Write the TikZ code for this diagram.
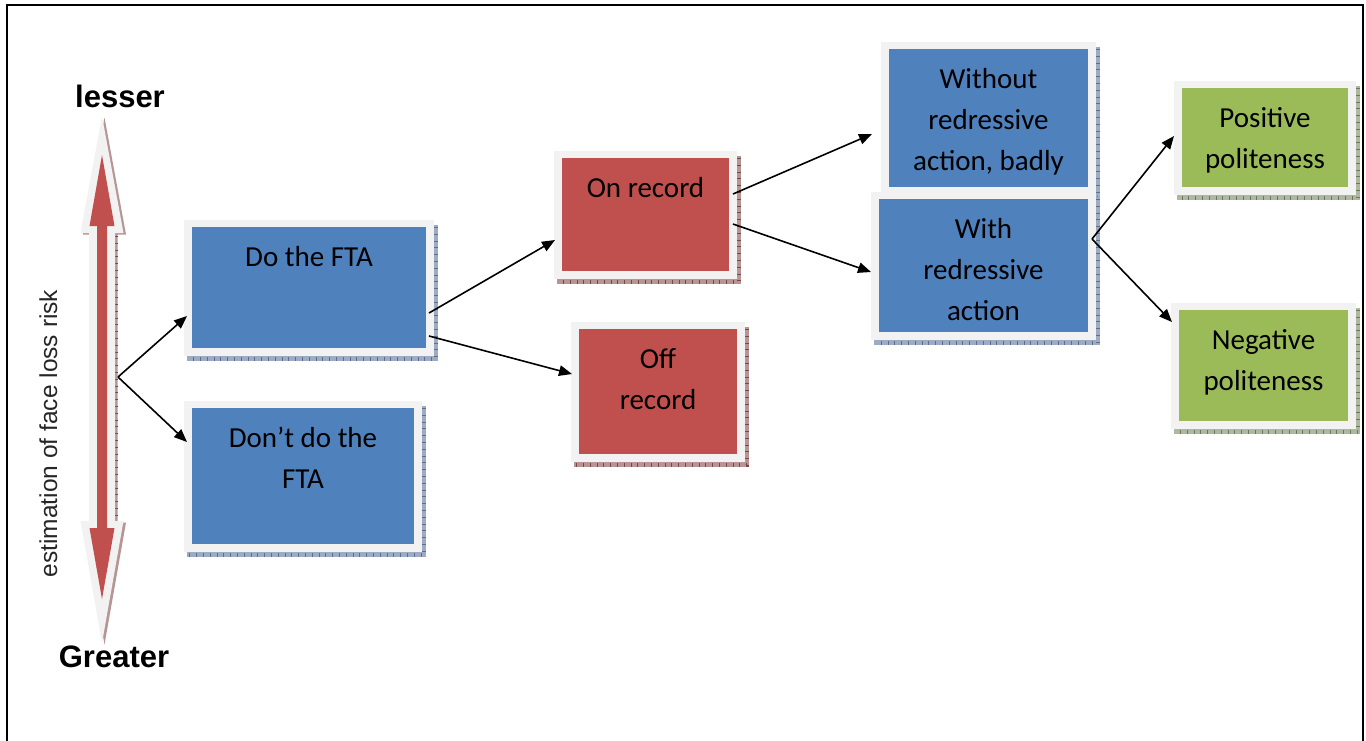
\documentclass[tikz,border=0pt]{standalone}
\usepackage{fontspec}
\setmainfont{Carlito}
\newfontfamily\arialfont{Liberation Sans}
\usetikzlibrary{arrows.meta,calc}
\definecolor{frgray}{HTML}{F2F2F2}
\definecolor{bluefill}{HTML}{4F81BD}
\definecolor{redfill}{HTML}{C0504D}
\definecolor{greenfill}{HTML}{9BBB59}
\definecolor{blueshadow}{HTML}{9DABC3}
\definecolor{blueticks}{HTML}{5A6F92}
\definecolor{redshadow}{HTML}{B89595}
\definecolor{redticks}{HTML}{7A4646}
\definecolor{greenshadow}{HTML}{AEB8A0}
\definecolor{greenticks}{HTML}{6A7858}
\tikzset{
  boxstyle/.style={rectangle, inner sep=0pt, outer sep=0pt, draw=none},
  boxtext/.style={font=\fontsize{29}{41}\selectfont, align=center, inner sep=0pt, text=black},
  conn/.style={line width=1.6pt, -{Triangle[length=13pt,width=10.5pt]}},
  sidelabel/.style={font=\arialfont\bfseries\fontsize{31}{36}\selectfont, anchor=base, inner sep=0pt},
}
% name x1 y1 x2 y2 fill shadow ticks text
\newcommand\ftabox[9]{%
  \fill[#7] ({#2-5},{#3-2}) rectangle ({#4+12},{#5+13});
  \draw[#8, line width=4pt, dash pattern=on 0.8pt off 6pt] ({#4+10},{#3}) -- ({#4+10},{#5+11}) -- ({#2-4},{#5+11});
  \fill[frgray] ({#2-8},{#3-7}) rectangle ({#4+8},{#5+8});
  \node[boxstyle, fill=#6, minimum width={#4-#2}, minimum height={#5-#3}, anchor=north west] (#1) at (#2,#3) {};
  \node[boxtext, anchor=north] (#1-t) at ({(#2+#4)/2},{#3+10.3}) {\strut #9};
}
\begin{document}
\begin{tikzpicture}[x=1pt,y=-1pt]
\useasboundingbox (0,0) rectangle (1366,740);
% frame
\draw[line width=2.5pt] (7,745) -- (7,5) -- (1363,5) -- (1363,745);

% double arrow (scale)
\fill[redshadow] (104.5,117.5) -- (126,234.5) -- (117.5,234.5) -- (117.5,522.5) -- (126,522.5) -- (104.5,644.5) -- (83,522.5) -- (91.5,522.5) -- (91.5,234.5) -- (83,234.5) -- cycle;
\draw[redticks, line width=2.5pt, dash pattern=on 0.8pt off 6pt] (116.5,236) -- (116.5,520);
\fill[frgray] (102,116) -- (123.5,233) -- (115,233) -- (115,521) -- (123.5,521) -- (102,643) -- (80.5,521) -- (89,521) -- (89,233) -- (80.5,233) -- cycle;
\fill[redfill] (102,155) -- (114.5,226) -- (107,226) -- (107,528) -- (114.5,528) -- (102,599) -- (89.5,528) -- (97,528) -- (97,226) -- (89.5,226) -- cycle;

\node[sidelabel] (lesser) at (120,107) {lesser};
\node[sidelabel] (greater) at (114,667) {Greater};
\node[rotate=90, anchor=base, inner sep=0pt, font=\arialfont\fontsize{24.5}{28}\selectfont, text=black!85] (axis) at (57,433.5) {estimation of face loss risk};

% boxes
\ftabox{do}{192}{227}{426}{348}{bluefill}{blueshadow}{blueticks}{Do the FTA}
\ftabox{dont}{192}{408}{414}{544}{bluefill}{blueshadow}{blueticks}{Don’t do the\\FTA}
\ftabox{on}{562}{158}{729}{271}{redfill}{redshadow}{redticks}{On record}
\ftabox{off}{579}{329}{737}{454}{redfill}{redshadow}{redticks}{Off\\record}
\ftabox{without}{889}{49}{1088}{187}{bluefill}{blueshadow}{blueticks}{Without\\redressive\\action, badly}
\ftabox{with}{879}{199}{1088}{332}{bluefill}{blueshadow}{blueticks}{With\\redressive\\action}
\ftabox{pos}{1182}{88}{1348}{187}{greenfill}{greenshadow}{greenticks}{Positive\\politeness}
\ftabox{neg}{1179}{310}{1348}{421}{greenfill}{greenshadow}{greenticks}{Negative\\politeness}

% connectors
\coordinate (fork1) at (118,377);
\coordinate (fork2) at ($(with.north east)+(4,40)$);
\draw[conn] (fork1) -- ($(do.north west)+(-5,89)$);
\draw[conn] (fork1) -- ($(dont.north west)+(-5,34)$);
\draw[conn] ($(do.north east)+(3,86)$) -- ($(on.north west)+(-7,82)$);
\draw[conn] ($(do.north east)+(3,109)$) -- ($(off.north west)+(-7,45)$);
\draw[conn] ($(on.north east)+(4,36)$) -- ($(without.north west)+(-17,85)$);
\draw[conn] ($(on.north east)+(4,66)$) -- ($(with.north west)+(-8,73)$);
\draw[conn] (fork2) -- ($(pos.north west)+(-8,48)$);
\draw[conn] (fork2) -- ($(neg.north west)+(-7,12)$);
\end{tikzpicture}
\end{document}
